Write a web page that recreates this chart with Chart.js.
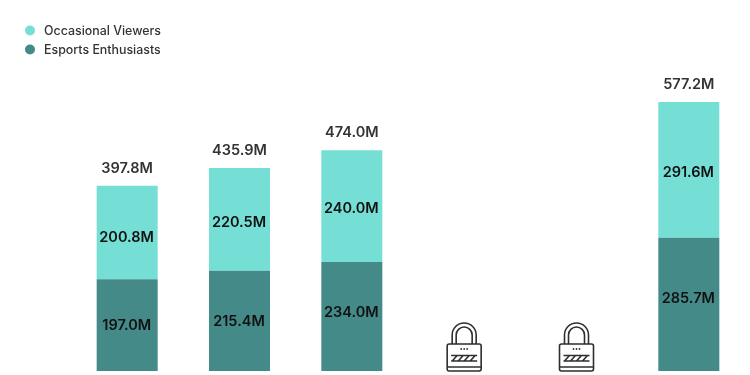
<!DOCTYPE html>
<html>
<head>
<meta charset="utf-8">
<style>
  html, body { margin: 0; padding: 0; background: #fff; }
</style>
</head>
<body>
<canvas id="myChart" width="750" height="375"></canvas>
<script src="https://cdn.jsdelivr.net/npm/chart.js@4"></script>
<script>
// six periods, the two locked ones have no values and no visible names
const categories = ['P1', 'P2', 'P3', 'P4', 'P5', 'P6'];
const enthusiasts = [197.0, 215.4, 234.0, null, null, 285.7];
const occasional = [200.8, 220.5, 240.0, null, null, 291.6];
const totals = [397.8, 435.9, 474.0, null, null, 577.2];
const locked = [false, false, false, true, true, false];

const occasionalName = 'Occasional Viewers';
const enthusiastsName = 'Esports Enthusiasts';
const lightTeal = '#76dfd5';
const darkTeal = '#448a88';

// labels in the reference are not quite centred in their segments
const occasionalNudge = [5.5, 3.5, 3, 0, 0, 3];
const enthusiastsNudge = [1, 1, -3.5, 0, 0, -5.5];

const valueFont = '600 14.5px Inter';

function fmt(v) {
    return v.toFixed(1) + 'M';
}

function drawLock(c, x, bottom) {
    c.save();
    c.translate(x, bottom);
    c.strokeStyle = '#2e2e2e';
    c.lineWidth = 1.6;
    // shackle, outer and inner
    c.beginPath();
    c.moveTo(-12, -27);
    c.lineTo(-12, -36);
    c.arc(0, -36, 12, Math.PI, 0);
    c.lineTo(12, -27);
    c.stroke();
    c.beginPath();
    c.moveTo(-8, -27);
    c.lineTo(-8, -36);
    c.arc(0, -36, 8, Math.PI, 0);
    c.lineTo(8, -27);
    c.stroke();
    // body
    c.beginPath();
    c.roundRect(-17, -27, 34, 27, 2);
    c.stroke();
    c.beginPath();
    c.moveTo(-17, -4);
    c.lineTo(17, -4);
    c.stroke();
    // keyhole dots
    c.fillStyle = '#2e2e2e';
    [-3, 0, 3].forEach(d => {
        c.beginPath();
        c.arc(d, -22, 0.9, 0, Math.PI * 2);
        c.fill();
    });
    // hatched band
    c.lineWidth = 1.6;
    c.beginPath();
    c.moveTo(-13, -15.5);
    c.lineTo(13, -15.5);
    c.moveTo(-13, -10);
    c.lineTo(13, -10);
    [-10, -4, 2, 8].forEach(d => {
        c.moveTo(d + 3, -15.5);
        c.lineTo(d - 2, -10);
    });
    c.stroke();
    c.restore();
}

const annotations = {
    id: 'annotations',
    afterDatasetsDraw(chart) {
        const c = chart.ctx;
        const xs = chart.scales.x;
        const ys = chart.scales.y;
        c.save();
        c.textAlign = 'center';
        c.textBaseline = 'middle';
        c.font = valueFont;
        categories.forEach((cat, i) => {
            const x = xs.getPixelForValue(i);
            if (locked[i]) {
                drawLock(c, x, ys.getPixelForValue(0));
                return;
            }
            c.fillStyle = '#111';
            const low = enthusiasts[i];
            const high = low + occasional[i];
            c.fillText(fmt(low), x - 0.5, ys.getPixelForValue(low / 2) + enthusiastsNudge[i]);
            c.fillText(fmt(occasional[i]), x - 0.5, ys.getPixelForValue((low + high) / 2) + occasionalNudge[i]);
            c.fillStyle = '#333';
            c.fillText(fmt(totals[i]), x, ys.getPixelForValue(high) - 17);
        });
        // legend sits up in the corner, away from the plot
        c.textAlign = 'left';
        c.font = '500 12.4px Inter';
        [[occasionalName, lightTeal, 30.5], [enthusiastsName, darkTeal, 49.5]].forEach(item => {
            c.fillStyle = item[1];
            c.beginPath();
            c.arc(30, item[2], 5, 0, Math.PI * 2);
            c.fill();
            c.fillStyle = '#333';
            c.fillText(item[0], 44, item[2] + 0.5);
        });
        c.restore();
    }
};

const ctx = document.getElementById('myChart').getContext('2d');
const myChart = new Chart(ctx, {
    type: 'bar',
    data: {
        labels: categories,
        datasets: [
            { label: enthusiastsName, data: enthusiasts, backgroundColor: darkTeal },
            { label: occasionalName, data: occasional, backgroundColor: lightTeal }
        ]
    },
    options: {
        responsive: false,
        animation: false,
        layout: { padding: { left: 71, right: 5, top: 102, bottom: 4 } },
        datasets: { bar: { categoryPercentage: 1, barPercentage: 0.543 } },
        scales: {
            x: { stacked: true, display: false },
            y: { stacked: true, display: false, min: 0, max: 577.3 }
        },
        plugins: {
            legend: { display: false },
            tooltip: { enabled: false }
        }
    },
    plugins: [annotations]
});
</script>
</body>
</html>
